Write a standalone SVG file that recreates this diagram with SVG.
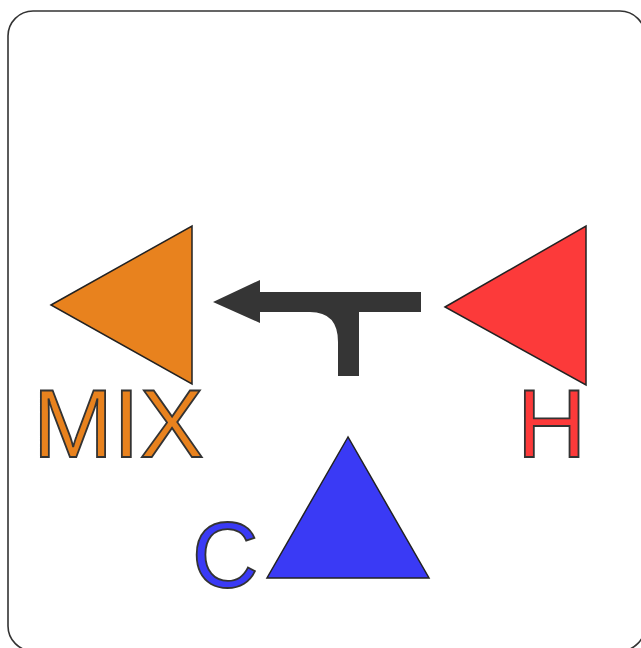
<svg xmlns="http://www.w3.org/2000/svg" width="641" height="648" viewBox="0 0 641 648">
<style>
.tri{stroke:#222;stroke-width:1.5;stroke-linejoin:miter}
.lbl{font-family:"Liberation Sans",Arial,sans-serif;stroke:#333;stroke-width:1.8}
</style>
<rect x="0" y="0" width="641" height="648" fill="#fff"/>
<rect x="8" y="11" width="637" height="640" rx="25" ry="25" fill="#fff" stroke="#333" stroke-width="1.6"/>
<g id="connectors">
<path d="M213 302 L260 280 L260 292 L421 292 L421 312 L359 312 L359 376 L338 376 L338 342 Q338 312 310 312 L260 312 L260 323 Z" fill="#353535"/>
</g>
<g id="node-mix">
<polygon class="tri" points="51,305 192,226 192,384" fill="#e8821e"/>
<text class="lbl" x="33" y="457" font-size="96" fill="#e8821e">MIX</text>
</g>
<g id="node-h">
<polygon class="tri" points="445,307 586,226 586,385" fill="#fc3a3a"/>
<text class="lbl" x="517" y="457" font-size="96" fill="#fc3a3a">H</text>
</g>
<g id="node-c">
<polygon class="tri" points="348,437 267,578 429,578" fill="#3a3af5"/>
<text class="lbl" x="192" y="587" font-size="92" fill="#3a3af5">C</text>
</g>
</svg>
